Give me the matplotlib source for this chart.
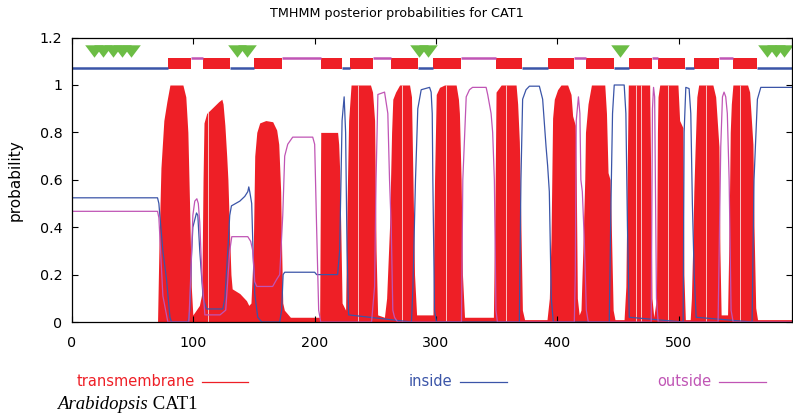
import numpy as np
import matplotlib
matplotlib.use("Agg")
import matplotlib.pyplot as plt

# ---- data (residue, probability) ----
# transmembrane probability, one line per helix region
tm_x = [0, 70.5, 71.6, 73.3, 75.7, 78.2, 80.7, 91.4, 93.8, 95.5, 97.1, 98.3, 99.6,
        101, 105, 107, 108, 108.8, 111, 116, 121, 123.5, 124.5, 126, 127.5, 128.5, 130, 131, 132,
        138.3, 143.8, 145.7, 147.5, 149.4, 150.6, 152.3, 154.7, 159.7, 165.4, 168.7, 170.4, 172, 172.8, 173.7, 175, 180, 200, 204.1,
        205, 218.9, 219.8, 220.6, 221.5, 222.6, 225.5,
        226.7, 228, 230, 246, 247.7, 249.4, 250.6, 251.9, 257.5,
        259.3, 261.7, 263.4, 264.4, 266.7, 270, 278.2, 279.8, 281, 282.3, 284,
        297.5, 298.8, 300.2, 302.9, 307, 316.6, 318.5, 319.3, 320.7, 321.8, 323.5,
        347.3, 348.6, 349.5, 353.7, 366, 367.3, 368.7, 370, 371.2, 373, 391.5,
        393.4, 394.8, 396.1, 397.5, 400.2, 403, 408.5, 411.3, 412.6, 414.8, 415.6, 416.5, 418,
        419.5, 421, 422.6, 423.2, 425.3, 428.1, 439.1, 440.5, 441.8, 443.5, 444.5, 446, 447.5, 455,
        456.5, 457.5, 458.5, 476.1, 477, 478, 479.5,
        481.7, 482.5, 483, 484.4, 499.4, 500.8, 503.5, 504.3, 505.5, 509.5,
        510.5, 511.5, 512.5, 513.5, 515, 516.5, 528.2, 530.5, 533.2, 534, 535, 540.3,
        541.6, 542.5, 543.4, 544.7, 556.8, 558.5, 561.2, 562.1, 563.5, 565, 593]
tm_y = [0, 0, 0.3, 0.65, 0.85, 0.93, 1.0, 1.0, 0.95, 0.8, 0.45, 0.15, 0.03,
        0.04, 0.07, 0.12, 0.6, 0.84, 0.88, 0.905, 0.93, 0.94, 0.92, 0.83, 0.7, 0.6, 0.35, 0.2, 0.14,
        0.12, 0.09, 0.07, 0.08, 0.3, 0.7, 0.8, 0.84, 0.85, 0.845, 0.81, 0.75, 0.55, 0.3, 0.08, 0.05, 0.02, 0.02, 0.02,
        0.8, 0.8, 0.75, 0.64, 0.4, 0.08, 0.05,
        0.5, 0.85, 1.0, 1.0, 0.97, 0.85, 0.3, 0.03, 0.02,
        0.1, 0.4, 0.8, 0.94, 0.97, 1.0, 1.0, 0.95, 0.6, 0.2, 0.03,
        0.03, 0.6, 0.96, 0.99, 1.0, 1.0, 0.94, 0.88, 0.6, 0.2, 0.02,
        0.02, 0.5, 0.97, 1.0, 1.0, 0.92, 0.76, 0.4, 0.05, 0.01, 0.01,
        0.1, 0.35, 0.86, 0.94, 0.98, 1.0, 1.0, 0.96, 0.87, 0.83, 0.6, 0.1, 0.03,
        0.05, 0.3, 0.6, 0.8, 0.92, 1.0, 1.0, 0.88, 0.63, 0.6, 0.4, 0.05, 0.01, 0.01,
        0.15, 0.6, 1.0, 1.0, 0.6, 0.1, 0.02,
        0.1, 0.8, 0.95, 1.0, 1.0, 0.85, 0.82, 0.2, 0.01, 0.01,
        0.1, 0.3, 0.55, 0.72, 0.95, 1.0, 1.0, 0.95, 0.74, 0.3, 0.03, 0.03,
        0.4, 0.8, 0.92, 1.0, 1.0, 0.97, 0.75, 0.4, 0.06, 0.01, 0.01]

in_x = [0, 70.5, 71.6, 72.4, 74.9, 77.9, 80.7, 82,
        95.5, 97.1, 98.5, 99.6, 102.6, 103.7, 105.3, 108.1, 110.9, 124.3, 126, 128.4, 130, 131.4,
        138.3, 142.4, 144.9, 145.7, 146.5, 148.1, 149.2, 150.6, 153.1, 156.4,
        171.2, 172.8, 174, 175.3, 200, 201.6, 218.9, 220.6, 222.6, 224.3, 225.5, 226.7, 228,
        279.8, 281, 283.1, 285, 287.8, 294.7, 296, 296.9, 297.4, 298.8, 300.4,
        368.7, 370, 371.4, 374.2, 377, 385.2, 387.9, 390.7, 392, 393.4, 395, 396.7,
        442.8, 444.2, 445.5, 446.9, 455.1, 456.5, 457.8, 459.3,
        503.7, 504.5, 505.9, 508.6, 510, 511.3, 512.8, 514.4,
        560.5, 562.1, 564.9, 567.7, 593]
in_y = [0.524, 0.524, 0.5, 0.45, 0.3, 0.18, 0.02, 0.0,
        0.0, 0.05, 0.28, 0.40, 0.46, 0.45, 0.3, 0.1, 0.055, 0.055, 0.1, 0.3, 0.45, 0.49,
        0.51, 0.53, 0.55, 0.57, 0.55, 0.5, 0.3, 0.12, 0.02, 0.0,
        0.0, 0.05, 0.2, 0.21, 0.21, 0.2, 0.2, 0.3, 0.85, 0.95, 0.8, 0.3, 0.03,
        0.0, 0.15, 0.6, 0.9, 0.98, 0.99, 0.97, 0.88, 0.6, 0.05, 0.0,
        0.0, 0.6, 0.94, 0.98, 0.995, 0.995, 0.94, 0.74, 0.66, 0.55, 0.1, 0.0,
        0.0, 0.5, 0.88, 1.0, 1.0, 0.88, 0.4, 0.02,
        0.0, 0.8, 0.99, 0.985, 0.88, 0.5, 0.2, 0.02,
        0.0, 0.6, 0.94, 0.99, 0.99]

out_x = [0, 70.5, 71.6, 74.9, 79,
         96.3, 97.9, 99.6, 101.2, 102.9, 104.1, 105.3, 107, 109.5, 122, 126.7, 130, 131.7,
         144.9, 147.3, 149, 150.6, 152.3, 165.4, 168.7, 171.2, 173.7, 175.3, 177.8, 181.9,
         198.4, 200, 201.6, 203.3, 205,
         246.9, 249.4, 250.6, 252.1, 257.6, 260.3, 261.7, 263.1, 264.4, 265.8, 268.3,
         321, 322.1, 324.9, 327.6, 330.1, 341.3, 342.6, 345.4, 346.7, 348.1, 349.4, 350.6,
         414, 414.8, 415.6, 417.4, 418.6, 419.4, 420.6, 422.2, 423.9, 425.5,
         477.4, 478.4, 479.3, 480.2, 481.7, 483.1,
         532.5, 534.7, 536.1, 537.4, 538.8, 540.1, 541.6, 543.2, 544.9, 593]
out_y = [0.467, 0.467, 0.44, 0.11, 0.0,
         0.0, 0.2, 0.45, 0.51, 0.52, 0.5, 0.42, 0.2, 0.03, 0.03, 0.05, 0.3, 0.36,
         0.36, 0.34, 0.3, 0.17, 0.15, 0.15, 0.18, 0.2, 0.45, 0.7, 0.75, 0.78,
         0.78, 0.75, 0.4, 0.05, 0.0,
         0.0, 0.15, 0.6, 0.96, 0.97, 0.88, 0.6, 0.4, 0.05, 0.02, 0.0,
         0.0, 0.6, 0.95, 0.98, 0.99, 0.99, 0.96, 0.88, 0.8, 0.6, 0.05, 0.0,
         0.0, 0.2, 0.85, 0.95, 0.88, 0.6, 0.55, 0.35, 0.05, 0.0,
         0.0, 0.9, 0.99, 0.95, 0.1, 0.0,
         0.0, 0.74, 0.95, 0.97, 0.95, 0.88, 0.6, 0.05, 0.0, 0.0]

# thin light streaks seen inside the red peaks (position, top)
streak_x = [112.5, 236, 271.7, 308.2, 358.1, 465.2, 469.3, 491, 522.8, 550.2]
streak_top = [0.89, 1.0, 1.0, 1.0, 1.0, 1.0, 1.0, 1.0, 1.0, 1.0]

# predicted topology (residue ranges)
tm_start = [79.3, 108.1, 150.1, 205.2, 229.1, 262.9, 297.4, 349.3, 392.1, 423.4, 458.8, 482.7, 512.3, 544.4]
tm_end = [98.2, 130.3, 173.1, 222.5, 248.1, 285.1, 320.5, 370.7, 413.5, 446.4, 477.7, 504.9, 532.9, 564.2]
inside_start = [0, 130.3, 222.5, 285.1, 370.7, 446.4, 504.9, 564.2]
inside_end = [79.3, 150.1, 229.1, 297.4, 392.1, 458.8, 512.3, 593]
outside_start = [98.2, 173.1, 248.1, 320.5, 413.5, 477.7, 532.9]
outside_end = [108.1, 205.2, 262.9, 349.3, 423.4, 482.7, 544.4]

# marked sites (green triangles)
site_x = [18.4, 25.8, 33.5, 41.2, 48.8, 136, 144, 286, 293, 451.6, 573, 580, 587]

assert len(tm_x) == len(tm_y) and len(in_x) == len(in_y) and len(out_x) == len(out_y)

RED = "#ee1f26"
BLUE = "#3b55a8"
MAGENTA = "#c055b5"
GREEN = "#6cbd45"

fig = plt.figure(figsize=(7.93, 4.18), dpi=100)
ax = fig.add_axes([72 / 793, (418 - 322) / 418, (791.5 - 72) / 793, (322 - 37.6) / 418])

ax.fill_between(tm_x, tm_y, 0, color=RED, lw=0)
ax.vlines(streak_x, 0, streak_top, color="#fbe0e0", lw=0.7, alpha=0.85)
ax.plot(in_x, in_y, color=BLUE, lw=0.9)
ax.plot(out_x, out_y, color=MAGENTA, lw=0.9)

# topology strip
ax.bar(tm_start, 0.049, width=np.array(tm_end) - np.array(tm_start), bottom=1.066,
       align="edge", color=RED, lw=0)
ax.hlines([1.07] * len(inside_start), inside_start, inside_end, color=BLUE, lw=1.8)
ax.hlines([1.114] * len(outside_start), outside_start, outside_end, color=MAGENTA, lw=1.8)
tri = [(-1.5, 1), (1.5, 1), (0, -1)]
ax.plot(site_x, [1.145] * len(site_x), ls="none", marker=tri, ms=13.4,
        color=GREEN, mec="none")

ax.set_xlim(0, 593)
ax.set_ylim(0, 1.2)
ax.set_xticks([0, 100, 200, 300, 400, 500])
ax.set_yticks([0, 0.2, 0.4, 0.6, 0.8, 1.0, 1.2])
ax.set_yticklabels(["0", "0.2", "0.4", "0.6", "0.8", "1", "1.2"])
ax.tick_params(direction="in", top=True, right=True, length=4, width=0.8,
               labelsize=10.3, colors="black")
ax.tick_params(axis="x", pad=10)
ax.tick_params(axis="y", pad=7)
for s in ax.spines.values():
    s.set_linewidth(0.9)

ax.set_ylabel("probability", fontsize=11, labelpad=12)
fig.text(0.5, 1 - 13 / 418, "TMHMM posterior probabilities for CAT1",
         ha="center", va="center", fontsize=9.2)

# legend row
ly = 1 - 382 / 418
fig.text(195 / 793, ly, "transmembrane", color=RED, ha="right", va="center", fontsize=10.5)
fig.add_artist(plt.Line2D([202 / 793, 248 / 793], [ly, ly], color=RED, lw=0.9))
fig.text(452 / 793, ly, "inside", color=BLUE, ha="right", va="center", fontsize=10.5)
fig.add_artist(plt.Line2D([460 / 793, 507 / 793], [ly, ly], color=BLUE, lw=0.9))
fig.text(711 / 793, ly, "outside", color=MAGENTA, ha="right", va="center", fontsize=10.5)
fig.add_artist(plt.Line2D([719 / 793, 766 / 793], [ly, ly], color=MAGENTA, lw=0.9))

t1 = fig.text(57 / 793, 1 - 409 / 418, "Arabidopsis", family="Liberation Serif",
              style="italic", fontsize=13.5, va="baseline")
ax.annotate(" CAT1", xy=(1, 0), xycoords=t1, va="bottom", family="Liberation Serif",
            fontsize=13.5)

fig.savefig("out.png", dpi=100)
